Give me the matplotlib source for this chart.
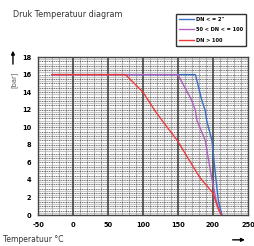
import matplotlib
matplotlib.use("Agg")
import matplotlib.pyplot as plt
import numpy as np

plt.rcParams['axes.unicode_minus'] = False

# Data
blue_x = [-30, 175, 184, 189, 191, 198.5, 204, 208, 213]
blue_y = [16, 16, 13.1, 11.9, 10.8, 8.5, 4.3, 1.5, 0]
purple_x = [-30, 150, 169.5, 175, 177, 189, 198, 205, 212]
purple_y = [16, 16, 13.1, 11.9, 10.8, 8.5, 4.3, 1.5, 0]
red_x = [-30, 75, 100, 117, 127, 149, 181, 200, 208, 212]
red_y = [16, 16, 14, 11.9, 10.8, 8.5, 4.3, 2.5, 0.6, 0]
labels = ['DN < = 2"', '50 < DN < = 100', 'DN > 100']
colors = ['#3a6fc4', '#b061c0', '#f03a3a']
xticks = [-50, 0, 50, 100, 150, 200, 250]
yticks = [0, 2, 4, 6, 8, 10, 12, 14, 16, 18]

fig = plt.figure(figsize=(2.54, 2.46), dpi=100)
ax = fig.add_axes([0.15, 0.126, 0.826, 0.642])
ax.set_xlim(-50, 250)
ax.set_ylim(0, 18)

# grid
for yv in np.arange(0.25, 18, 0.5):
    ax.axhline(yv, color='#c4c4c4', lw=0.9, zorder=1)
for yv in np.arange(0.5, 18, 0.5):
    ax.axhline(yv, color='#333333', lw=0.5, ls=(0, (1.5, 1)), zorder=1.2)
for xv in np.arange(-40, 250, 10):
    if xv % 50 != 0:
        ax.axvline(xv, color='#b0b0b0', lw=0.7, zorder=1.1)
for xv in [0, 50, 100, 150, 200]:
    ax.axvline(xv, color='#444444', lw=1.2, zorder=1.5)

for xs, ys, c, l in [(blue_x, blue_y, colors[0], labels[0]),
                     (purple_x, purple_y, colors[1], labels[1]),
                     (red_x, red_y, colors[2], labels[2])]:
    ax.plot(xs, ys, color=c, lw=1.0, label=l, zorder=3)

ax.set_xticks(xticks)
ax.set_yticks(yticks)
ax.tick_params(length=0, pad=5)
for t in ax.get_xticklabels() + ax.get_yticklabels():
    t.set_fontweight('bold')
    t.set_fontsize(4.8)
for s in ax.spines.values():
    s.set_color('#444444')
    s.set_linewidth(1.0)

leg = fig.legend(loc='upper left', bbox_to_anchor=(0.693, 0.945),
                 prop={'weight': 'bold', 'size': 3.6},
                 frameon=True, fancybox=False, handlelength=3.0, handletextpad=0.3,
                 borderpad=0.6, labelspacing=1.1, borderaxespad=0)
leg.get_frame().set_edgecolor('black')
leg.get_frame().set_linewidth(1.0)

fig.text(0.05, 0.94, 'Druk Temperatuur diagram', fontsize=5.8, color='#333333', va='center')
fig.text(0.055, 0.675, '[bar]', fontsize=4.8, color='#555555', rotation=90, ha='center', va='center')
fig.text(0.01, 0.025, 'Temperatuur °C', fontsize=5.5, color='#333333', va='center')
fig.add_artist(matplotlib.patches.FancyArrowPatch((0.051, 0.728), (0.051, 0.805),
               transform=fig.transFigure, arrowstyle='-|>', mutation_scale=5, lw=1.0, color='black'))
fig.add_artist(matplotlib.patches.FancyArrowPatch((0.905, 0.025), (0.975, 0.025),
               transform=fig.transFigure, arrowstyle='-|>', mutation_scale=5, lw=1.0, color='black'))

fig.savefig('out.png', dpi=100)
